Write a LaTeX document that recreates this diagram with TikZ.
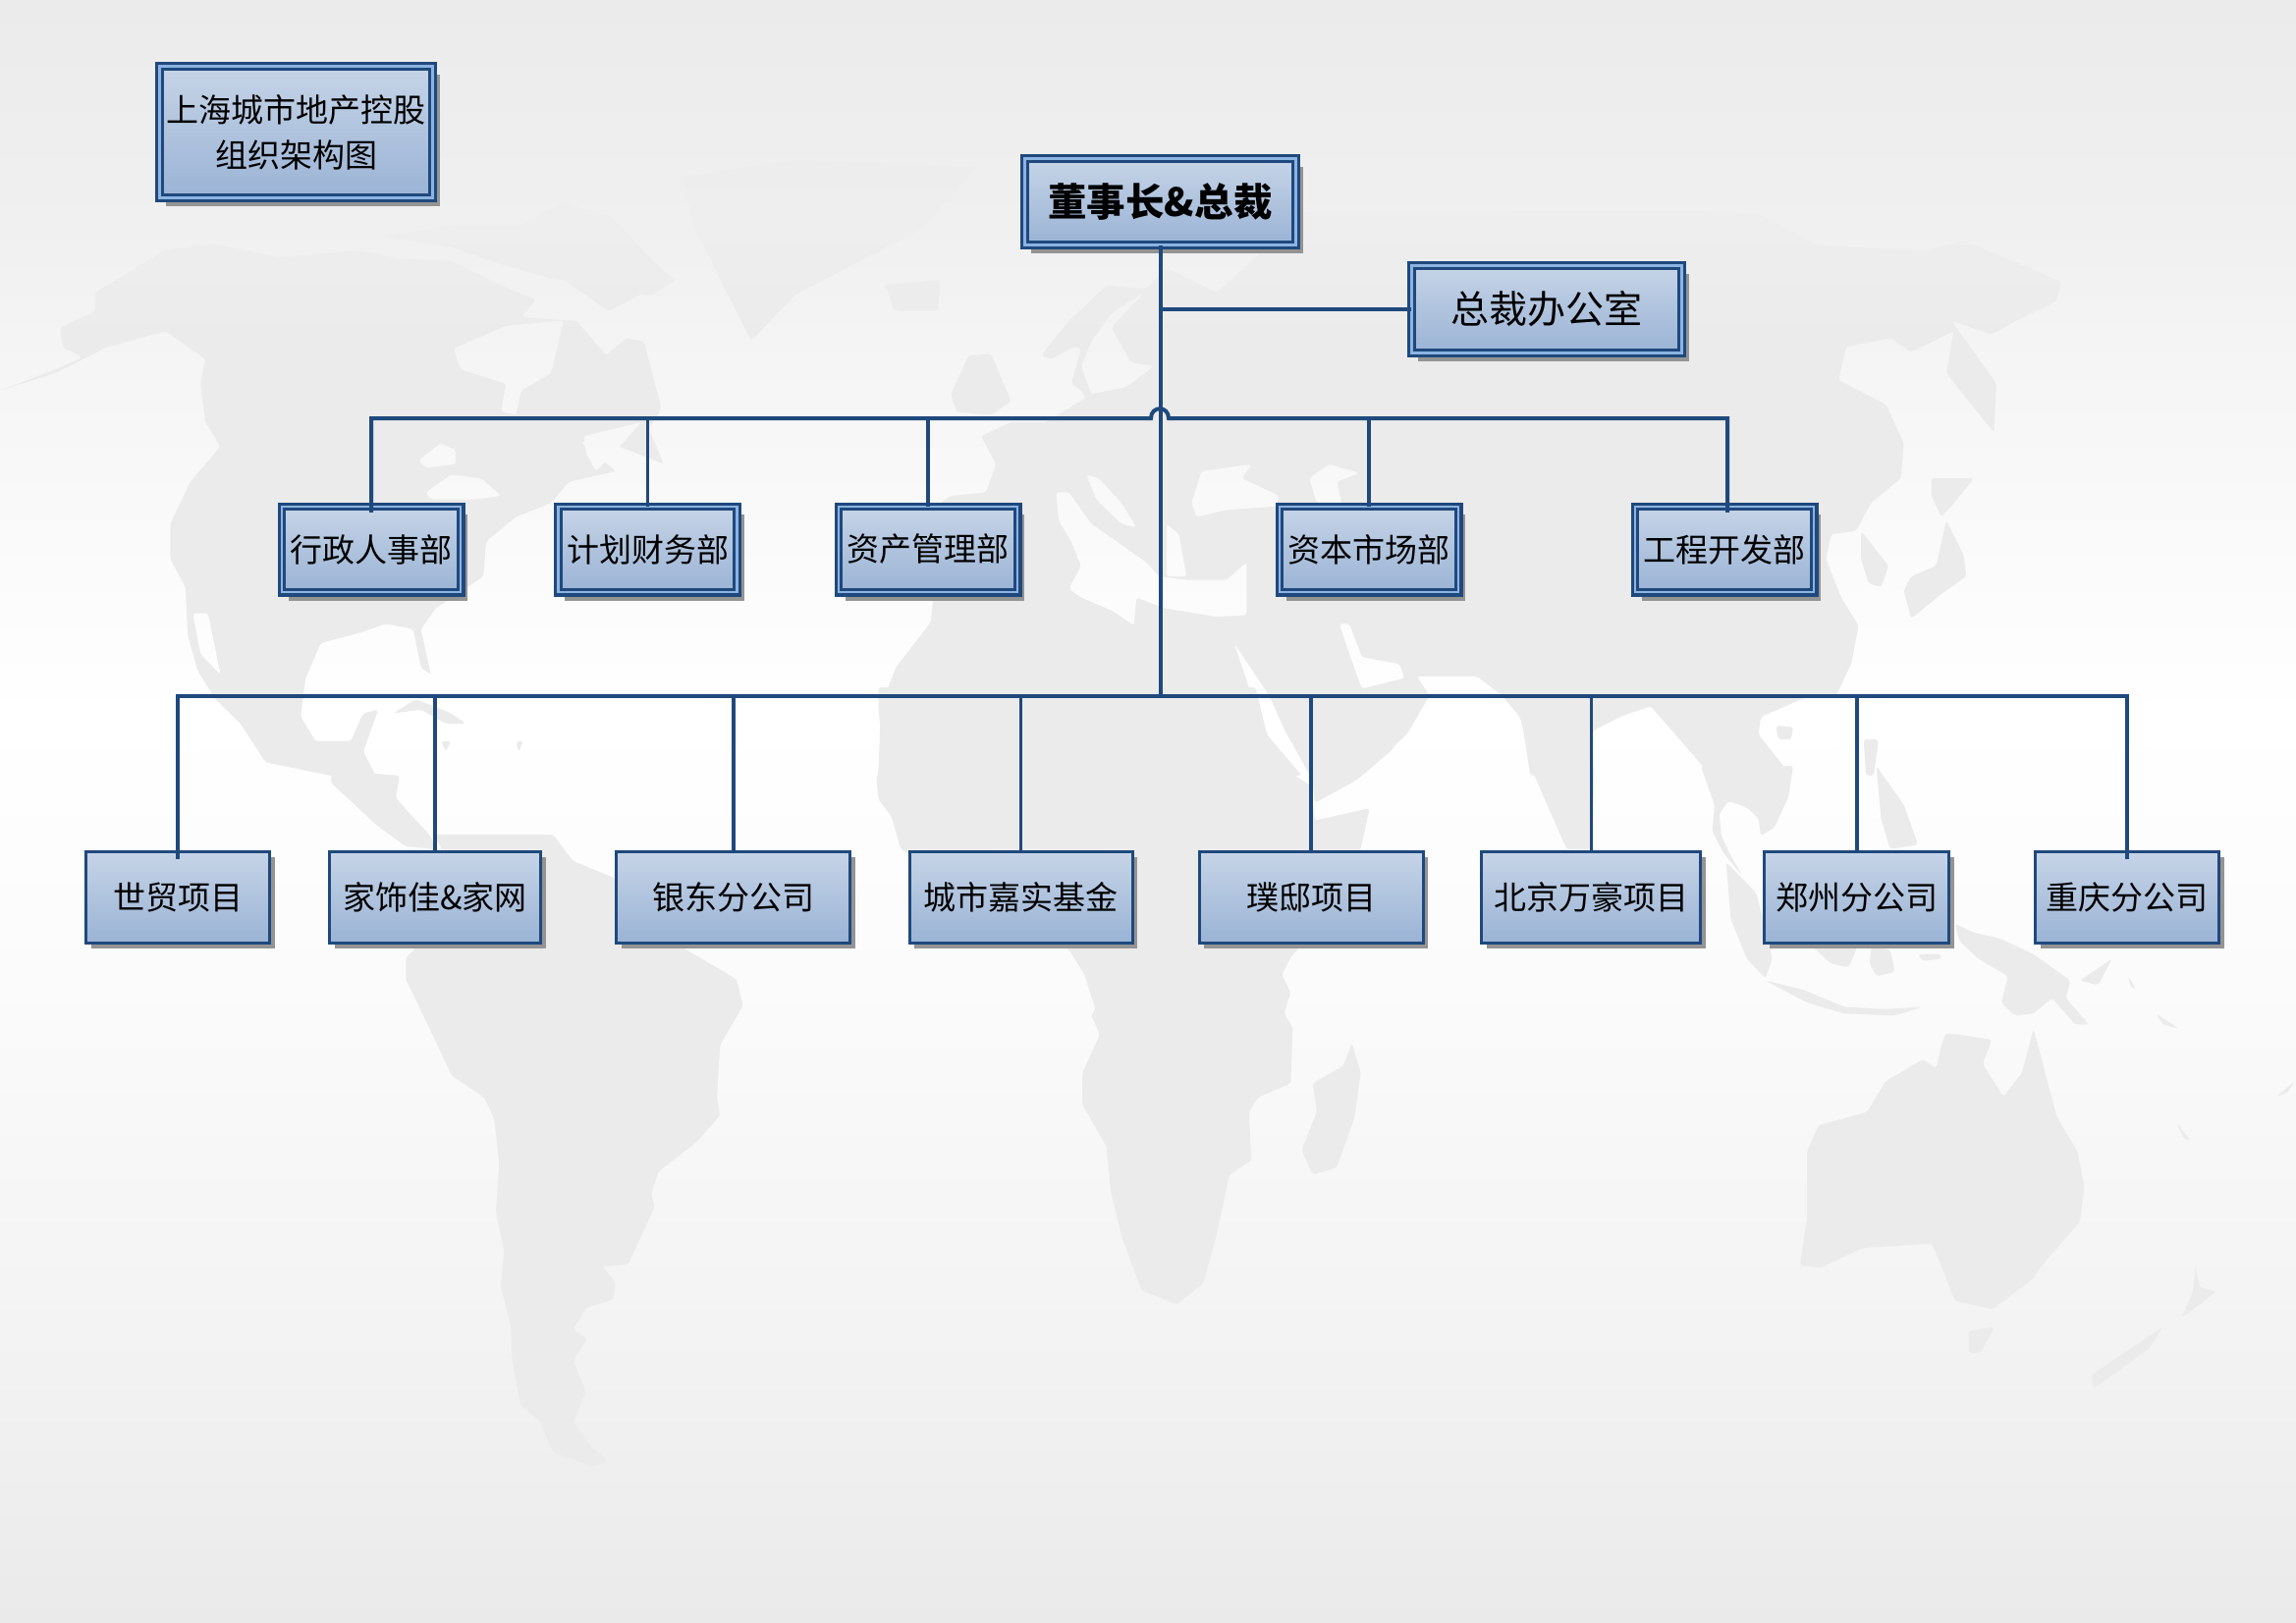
\documentclass[tikz,border=0pt]{standalone}
\usepackage{fontspec}
\setmainfont{Noto Sans CJK SC}
\usetikzlibrary{shadows}
\definecolor{navy}{HTML}{1F497D}
\definecolor{lblue}{HTML}{8DB3E2}
\definecolor{boxtop}{HTML}{C6D4E7}
\definecolor{boxbot}{HTML}{9AB3D5}
\definecolor{landc}{HTML}{EBEBEB}
\definecolor{landtop}{HTML}{EEEEEE}
\definecolor{bgA}{HTML}{EBEBEB}
\definecolor{bgB}{HTML}{F0F0F0}
\definecolor{bgG}{HTML}{F6F6F6}
\definecolor{bgC}{HTML}{FFFFFF}
\definecolor{bgD}{HTML}{FBFBFB}
\definecolor{bgE}{HTML}{F2F2F2}
\definecolor{bgF}{HTML}{EAEAEA}
\pgfdeclareverticalshading{bgshade}{100bp}{color(0bp)=(bgF); color(25bp)=(bgF); color(32.65bp)=(bgE); color(44.75bp)=(bgD); color(52.92bp)=(bgC); color(62.9bp)=(bgG); color(68.04bp)=(bgB); color(75bp)=(bgA); color(100bp)=(bgA)}
\tikzset{
  zA/.style={shift={(0,230)},x=.5102pt,y=-.3571pt},
  zB/.style={shift={(350,850)},x=.3333pt,y=-.4464pt},
  zC/.style={shift={(800,230)},x=.5102pt,y=-.3571pt},
  zD/.style={shift={(1538,230)},x=.5102pt,y=-.3571pt},
  zE/.style={shift={(850,700)},x=.4464pt,y=-.3571pt},
  zF/.style={shift={(1600,780)},x=.4707pt,y=-.4464pt},
  zN/.style={},
  boxbase/.style={rectangle,inner sep=0pt,outer sep=0pt,align=center,text=black,
    top color=boxtop,bottom color=boxbot,draw=navy,
    font=\fontsize{33}{46}\selectfont},
  dblbox/.style={boxbase,line width=3.2pt,double=lblue,double distance=2.4pt,
    general shadow={fill=black!42,shadow xshift=7pt,shadow yshift=-8.5pt}},
  sglbox/.style={boxbase,line width=3pt,
    general shadow={fill=black!42,shadow xshift=5pt,shadow yshift=-5.5pt}},
  conn/.style={draw=navy,line width=4pt,line join=miter},
  connthin/.style={draw=navy,line width=3.2pt},
}
\newcommand{\bgpaint}{\shade[shading=bgshade] (0,0) rectangle (2338,1653);}
\newcommand{\landpaint}{\fill[landc] (0,349) rectangle (2338,1653);
  \shade[top color=landtop,bottom color=landc] (0,230) rectangle (2338,350);
  \shade[top color=landc,bottom color=landtop] (0,0) rectangle (2338,231);}
\newcommand{\landp}[2]{\begin{scope}\clip {[#1,rounded corners=3pt] #2};\landpaint\end{scope}}
\newcommand{\seap}[2]{\begin{scope}\clip {[#1,rounded corners=3pt] #2};\bgpaint\end{scope}}
\begin{document}
\begin{tikzpicture}[x=1pt,y=-1pt]
\useasboundingbox (0,0) rectangle (2338,1653);
\bgpaint
% --- world map, drawn directly ---
\landp{zA}{(0,470)--(110,410)--(165,375)--(125,345)--(120,290)--(190,245)--(190,190)--(260,130)--(330,70)--(420,50)--(560,90)--(720,70)--(800,95)--(900,100)--(1000,170)--(1070,210)--(1040,260)--(1130,270)--(1150,270)--(1210,370)--(1250,320)--(1285,330)--(1320,520)--(1295,580)--(1325,680)--(1255,640)--(1180,600)--(1160,620)--(1230,700)--(1135,730)--(1100,790)--(1030,830)--(970,900)--(965,1000)--(870,1090)--(840,1150)--(860,1280)--(840,1260)--(825,1150)--(770,1135)--(720,1160)--(640,1190)--(610,1290)--(600,1400)--(630,1470)--(700,1470)--(725,1390)--(755,1380)--(725,1500)--(750,1568)--(660,1568)--(530,1530)--(480,1420)--(430,1350)--(395,1270)--(375,1170)--(370,1030)--(340,950)--(340,850)--(380,730)--(440,630)--(410,560)--(400,450)--(410,380)--(330,300)--(215,345)--(110,420)--cycle}
\landp{zN}{(337,788)--(383,788)--(407,790)--(403,813)--(437,850)--(445,865)--(413,862)--(383,840)--(337,797)--cycle}
\landp{zA}{(760,30)--(900,0)--(1100,0)--(1200,60)--(1350,150)--(1300,200)--(1200,170)--(1100,150)--(1000,110)--(900,60)--cycle}
\landp{zN}{(510,240)--(574,207)--(620,220)--(683,283)--(620,317)--cycle}
\landp{zN}{(741,300)--(765,347)--(810,300)--(938,233)--(995,170)--(810,163)--(695,180)--(708,233)--cycle}
\landp{zN}{(900,290)--(957,285)--(955,317)--(915,317)--cycle}
\landp{zA}{(785,1390)--(830,1350)--(900,1390)--(930,1420)--(890,1420)--(840,1380)--cycle}
\landp{zA}{(880,1470)--(900,1470)--(890,1500)--cycle}
\landp{zA}{(1030,1470)--(1045,1470)--(1035,1500)--cycle}
% South America
\landp{zB}{(270,0)--(640,0)--(700,60)--(830,100)--(1040,260)--(1200,330)--(1220,390)--(1150,480)--(1140,600)--(1150,640)--(1080,700)--(960,770)--(940,820)--(950,850)--(900,930)--(870,980)--(790,985)--(830,1020)--(825,1060)--(740,1080)--(700,1130)--(745,1150)--(700,1200)--(740,1270)--(700,1340)--(760,1400)--(810,1430)--(760,1440)--(640,1410)--(600,1340)--(540,1300)--(515,1200)--(510,1120)--(480,1030)--(490,950)--(465,860)--(475,750)--(460,650)--(430,600)--(330,550)--(280,470)--(190,330)--(190,280)--(220,260)--(230,200)--(300,30)--cycle}
% Eurasia west and north Africa
\landp{zC}{(185,1568)--(190,1370)--(220,1260)--(290,1130)--(295,1050)--(300,800)--(330,770)--(400,760)--(420,680)--(390,600)--(450,560)--(520,560)--(600,490)--(590,470)--(570,450)--(590,350)--(575,345)--(530,380)--(510,370)--(560,280)--(640,170)--(720,180)--(760,120)--(860,190)--(1040,-40)--(1568,-40)--(1568,1568)--(1500,1568)--(1465,1400)--(1430,1340)--(1380,1285)--(1260,1285)--(1285,1340)--(1240,1450)--(1150,1568)--(1060,1568)--(1000,1450)--(965,1340)--(895,1190)--(930,1340)--(960,1450)--(1030,1568)--cycle}
\landp{zC}{(365,370)--(410,365)--(450,500)--(410,540)--(340,530)--(330,480)--cycle}
\landp{zC}{(205,190)--(280,165)--(305,200)--(260,240)--(215,240)--cycle}
% Asia east
\landp{zD}{(0,-40)--(376,-42)--(494,-34)--(611,56)--(827,70)--(905,42)--(1100,160)--(1090,215)--(1010,270)--(960,310)--(880,270)--(970,450)--(965,590)--(870,420)--(885,300)--(800,360)--(760,320)--(670,345)--(655,440)--(750,510)--(785,620)--(780,720)--(720,790)--(690,870)--(640,880)--(630,950)--(660,1060)--(695,1140)--(680,1250)--(650,1340)--(590,1345)--(500,1400)--(495,1450)--(560,1568)--(400,1568)--(335,1460)--(280,1370)--(220,1400)--(165,1440)--(165,1568)--(40,1568)--(15,1340)--(0,1300)--cycle}
\landp{zD}{(700,870)--(755,970)--(740,1030)--(715,1020)--(700,950)--cycle}
\landp{zD}{(870,840)--(905,940)--(910,1000)--(860,1050)--(800,1120)--(785,1040)--(800,1000)--(850,970)--cycle}
\landp{zD}{(840,720)--(925,720)--(880,800)--(860,830)--(840,770)--cycle}
\landp{zD}{(530,1425)--(565,1430)--(560,1465)--(535,1465)--cycle}
\landp{zD}{(705,1465)--(735,1465)--(725,1568)--(710,1568)--cycle}
\landp{zF}{(-89,0)--(50,0)--(45,190)--(-10,190)--cycle}
% Africa, Arabia, Madagascar
\landp{zE}{(100,0)--(100,60)--(105,130)--(105,210)--(95,265)--(100,320)--(130,370)--(150,460)--(535,750)--(570,820)--(595,920)--(585,935)--(605,990)--(565,1100)--(565,1190)--(620,1310)--(630,1440)--(655,1568)--(700,1720)--(780,1760)--(840,1700)--(870,1568)--(900,1390)--(950,1350)--(945,1210)--(965,1170)--(1040,1130)--(1045,970)--(1025,930)--(1040,870)--(1020,820)--(1040,770)--(1090,700)--(1200,460)--(1220,345)--(1095,380)--(1085,280)--(1010,220)--(985,130)--(960,0)--cycle}
\landp{zE}{(1005,30)--(1030,130)--(1090,265)--(1095,330)--(1190,265)--(1270,180)--(1350,30)--cycle}
\landp{zE}{(1180,1015)--(1200,1100)--(1185,1230)--(1145,1370)--(1090,1390)--(1065,1320)--(1100,1210)--(1090,1130)--(1160,1080)--cycle}
% South-east Asia and Oceania
\landp{zF}{(280,0)--(480,0)--(470,70)--(440,140)--(410,160)--(405,120)--(380,95)--(340,80)--(320,110)--(325,160)--(345,205)--(370,250)--(330,200)--(305,150)--(310,90)--cycle}
\landp{zF}{(335,220)--(400,290)--(415,350)--(435,440)--(420,485)--(380,440)--(345,350)--cycle}
\landp{zF}{(420,490)--(500,510)--(590,550)--(680,555)--(760,550)--(700,570)--(590,565)--(510,540)--cycle}
\landp{zF}{(520,410)--(620,410)--(600,460)--(560,450)--cycle}
\landp{zF}{(650,410)--(690,420)--(700,470)--(660,480)--(645,450)--cycle}
\landp{zF}{(660,0)--(700,60)--(720,90)--(750,180)--(690,190)--(670,120)--cycle}
\landp{zF}{(750,430)--(800,430)--(800,440)--(760,445)--cycle}
\landp{zF}{(830,360)--(870,380)--(930,395)--(1000,430)--(1080,490)--(1070,530)--(1120,590)--(1090,590)--(1040,530)--(1000,565)--(960,570)--(930,540)--(945,480)--(880,440)--(840,400)--cycle}
\landp{zF}{(1100,490)--(1170,440)--(1140,500)--cycle}
\landp{zF}{(1205,480)--(1222,510)--(1210,505)--cycle}
\landp{zF}{(1265,565)--(1315,600)--(1280,590)--cycle}
\landp{zF}{(810,610)--(850,615)--(910,625)--(890,680)--(935,755)--(975,700)--(1000,600)--(1025,700)--(1050,800)--(1095,880)--(1110,960)--(1100,1040)--(1010,1150)--(1000,1170)--(910,1240)--(830,1220)--(800,1140)--(780,1090)--(630,1100)--(540,1145)--(495,1140)--(510,1030)--(510,880)--(535,820)--(640,790)--(680,720)--(760,670)--(790,690)--(800,640)--cycle}
\landp{zF}{(860,1290)--(915,1280)--(885,1340)--(860,1340)--cycle}
\landp{zF}{(1350,1140)--(1360,1190)--(1395,1200)--(1320,1260)--(1345,1200)--cycle}
\landp{zF}{(1280,1280)--(1250,1330)--(1130,1420)--(1125,1390)--(1210,1330)--cycle}
\landp{zF}{(1310,815)--(1340,855)--(1325,850)--cycle}
\landp{zF}{(1525,755)--(1565,720)--(1550,745)--cycle}
% inland seas
\seap{zA}{(905,350)--(1010,285)--(1125,270)--(1100,420)--(1040,470)--(1030,540)--(1000,530)--(1010,450)--(920,410)--cycle}
\seap{zA}{(835,670)--(880,620)--(910,640)--(910,680)--(850,690)--cycle}
\seap{zA}{(850,760)--(900,710)--(960,720)--(1000,770)--(950,780)--(860,780)--cycle}
\seap{zA}{(1165,600)--(1280,560)--(1230,640)--(1190,700)--(1170,650)--cycle}
\seap{zA}{(385,1105)--(415,1105)--(440,1280)--(400,1220)--cycle}
\seap{zC}{(540,760)--(565,760)--(610,850)--(660,900)--(720,960)--(745,1000)--(800,1010)--(880,1010)--(920,960)--(920,1110)--(860,1115)--(755,1090)--(700,1060)--(695,1140)--(655,1100)--(590,1060)--(565,1035)--(590,970)--(570,900)--(545,840)--cycle}
\seap{zC}{(600,710)--(625,720)--(670,790)--(700,860)--(670,850)--(620,780)--cycle}
\seap{zC}{(760,850)--(785,880)--(800,1000)--(760,1000)--cycle}
\seap{zC}{(830,700)--(930,680)--(910,720)--(985,770)--(980,800)--(880,810)--(820,830)--(810,790)--cycle}
\seap{zC}{(1045,720)--(1085,680)--(1145,705)--(1100,730)--(1110,790)--(1060,790)--cycle}
\seap{zC}{(1105,1135)--(1125,1135)--(1150,1230)--(1225,1250)--(1235,1290)--(1150,1320)--(1130,1240)--cycle}
\seap{zC}{(610,480)--(680,460)--(735,400)--(690,390)--(650,290)--(715,190)--(650,250)--(610,330)--(590,400)--cycle}
% --- boxes ---
\node[dblbox,minimum width=278.2pt,minimum height=134.2pt] (title) at (301.5,134.5) {上海城市地产控股\\组织架构图};
\node[dblbox,minimum width=276.2pt,minimum height=88.2pt,font=\fontsize{39.5}{46}\selectfont\bfseries] (ceo) at (1181.5,205.5) {董事长\&总裁};
\node[dblbox,minimum width=275.2pt,minimum height=89.2pt,font=\fontsize{39}{46}\selectfont] (office) at (1575,315) {总裁办公室};
\tikzset{deptbox/.style={dblbox,minimum width=182.2pt,minimum height=87.2pt}}
\node[deptbox] (d1) at (378,559.5) {行政人事部};
\node[deptbox] (d2) at (659.5,559.5) {计划财务部};
\node[deptbox] (d3) at (945,559.5) {资产管理部};
\node[deptbox] (d4) at (1394,559.5) {资本市场部};
\node[deptbox] (d5) at (1756,559.5) {工程开发部};
\tikzset{projbox/.style={sglbox,minimum height=93pt}}
\node[projbox,minimum width=187pt] (p1) at (181,914) {世贸项目};
\node[projbox,minimum width=215pt] (p2) at (443,914) {家饰佳\&家网};
\node[projbox,minimum width=238pt] (p3) at (746.5,914) {银东分公司};
\node[projbox,minimum width=227pt] (p4) at (1039.75,914) {城市嘉实基金};
\node[projbox,minimum width=228pt] (p5) at (1335,914) {璞邸项目};
\node[projbox,minimum width=223pt] (p6) at (1620.3,914) {北京万豪项目};
\node[projbox,minimum width=188pt] (p7) at (1890.5,914) {郑州分公司};
\node[projbox,minimum width=187pt] (p8) at (2166,914) {重庆分公司};
% --- connectors ---
\coordinate (hopL) at (1172,426);
\coordinate (hopR) at (1190,426);
\coordinate (t3) at (1181.5,709);
\coordinate (oj) at (1181.5,315);
\coordinate (ok) at (1315,315);
\draw[conn] (ceo.south) -- (t3);
\draw[conn] (oj) -- (ok);
\draw[connthin] (ok) -- (office.west);
\draw[conn,shorten <=-6pt,shorten >=-6pt] (d1.north) |- (hopL) .. controls +(0,-13) and +(0,-13) .. (hopR) -| ([xshift=3pt]d5.north);
\draw[connthin] (d2.north |- hopL) -- (d2.north);
\draw[conn] (d3.north |- hopL) -- (d3.north);
\draw[conn] (d4.north |- hopL) -- (d4.north);
\draw[conn,shorten <=-7pt,shorten >=-7pt] (p1.north) |- (t3) -| (p8.north);
\draw[conn] (p2.north |- t3) -- (p2.north);
\draw[conn] (p3.north |- t3) -- (p3.north);
\draw[connthin] (p4.north |- t3) -- (p4.north);
\draw[conn] (p5.north |- t3) -- (p5.north);
\draw[connthin] (p6.north |- t3) -- (p6.north);
\draw[conn] (p7.north |- t3) -- (p7.north);
\end{tikzpicture}
\end{document}
